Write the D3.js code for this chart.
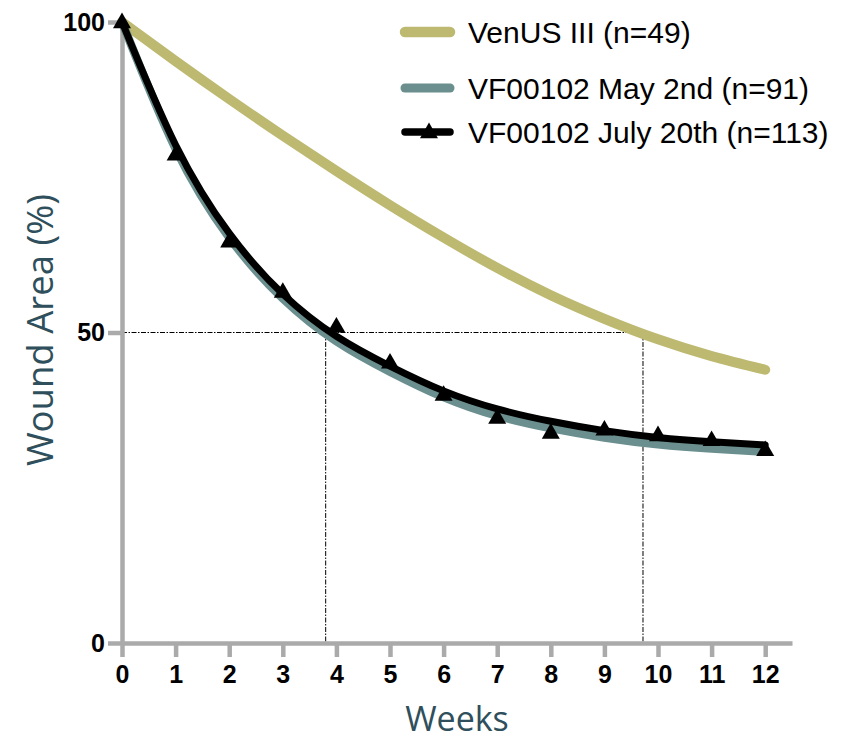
<!DOCTYPE html>
<html>
<head>
<meta charset="utf-8">
<script src="https://cdn.jsdelivr.net/npm/d3@7"></script>
<style>
  body { margin: 0; background: #fff; }
  .tick text { font-family: "Liberation Sans", Arial, sans-serif; font-weight: bold; font-size: 25px; fill: #000; }
  .axis path, .axis line { stroke: #aaaaaa; stroke-width: 4.5; }
  .title { font-family: "Open Sans", "Noto Sans", sans-serif; fill: #2e4f5b; }
  .legend text { font-family: "Liberation Sans", Arial, sans-serif; font-size: 30px; fill: #000; }
</style>
</head>
<body>
<div id="chart-area"></div>
<script>
// weeks on the x axis
let weeks = [0, 1, 2, 3, 4, 5, 6, 7, 8, 9, 10, 11, 12];

// fitted curves, wound area % per week
let venus = [100, 93.7, 87.6, 81.7, 76.0, 70.5, 65.3, 60.4, 56.0, 52.2, 48.9, 46.2, 44.0];
let mayFit = [100, 79.6, 65.3, 55.5, 48.6, 43.7, 39.6, 36.6, 34.6, 33.1, 32.0, 31.3, 30.8];
let julyFit = [100, 80.2, 66.0, 56.2, 49.4, 44.6, 40.6, 37.7, 35.7, 34.2, 33.1, 32.4, 31.9];

// observed points of the July 20th series
let julyPts = [100, 78.7, 64.7, 56.6, 51.0, 45.2, 40.0, 36.3, 33.9, 34.4, 33.5, 32.7, 31.1];

// weeks to 50% healing (dash-dot guides)
let halfWeeks = [3.8, 9.72];

let xTicks = weeks;
let yTicks = [0, 50, 100];

let series = [
  { name: "VenUS III (n=49)", values: venus, color: "#bdb970", width: 10 },
  { name: "VF00102 May 2nd (n=91)", values: mayFit, color: "#6a8f8e", width: 8.5 },
  { name: "VF00102 July 20th (n=113)", values: julyFit, color: "#000000", width: 7 }
];

let svgW = 856;
let svgH = 743;

let x = d3.scaleLinear().domain([0, 12.5]).range([122, 792]);
let y = d3.scaleLinear().domain([0, 100]).range([643, 22]);

let svg = d3.select("#chart-area")
  .append("svg")
  .attr("width", svgW)
  .attr("height", svgH);

// guides first so the curves sit on top
let guides = svg.append("g")
  .attr("stroke", "#000")
  .attr("stroke-width", 1)
  .attr("stroke-dasharray", "5,1.5,1.5,1.5");

guides.append("line")
  .attr("x1", x(0)).attr("x2", x(d3.max(halfWeeks)) + 3)
  .attr("y1", y(50)).attr("y2", y(50));

guides.selectAll(".v")
  .data(halfWeeks)
  .enter().append("line")
  .attr("x1", d => x(d)).attr("x2", d => x(d))
  .attr("y1", y(50)).attr("y2", y(0));

// axes
let xAxis = d3.axisBottom(x)
  .tickValues(xTicks)
  .tickSize(14)
  .tickSizeOuter(0)
  .tickPadding(8);

let yAxis = d3.axisLeft(y)
  .tickValues(yTicks)
  .tickSize(14)
  .tickSizeOuter(0)
  .tickPadding(3);

svg.append("g")
  .attr("class", "axis")
  .attr("transform", `translate(0, ${y(0)})`)
  .call(xAxis);

svg.append("g")
  .attr("class", "axis")
  .attr("transform", `translate(${x(0)}, 0)`)
  .call(yAxis);

// curves
let line = d3.line()
  .x((d, i) => x(weeks[i]))
  .y(d => y(d))
  .curve(d3.curveNatural);

svg.selectAll(".curve")
  .data(series)
  .enter().append("path")
  .attr("class", "curve")
  .attr("d", d => line(d.values))
  .attr("fill", "none")
  .attr("stroke", d => d.color)
  .attr("stroke-width", d => d.width)
  .attr("stroke-linecap", "round");

let tri = d3.symbol().type(d3.symbolTriangle).size(140);

svg.selectAll(".pt")
  .data(julyPts)
  .enter().append("path")
  .attr("class", "pt")
  .attr("d", tri)
  .attr("transform", (d, i) => `translate(${x(weeks[i])},${y(d) + 1})`)
  .attr("fill", "#000");

// axis titles
svg.append("text")
  .attr("class", "title")
  .attr("x", 457)
  .attr("y", 731)
  .attr("font-size", 34)
  .attr("text-anchor", "middle")
  .text("Weeks");

svg.append("text")
  .attr("class", "title")
  .attr("font-size", 36.5)
  .attr("transform", "translate(53, 330) rotate(-90)")
  .attr("text-anchor", "middle")
  .text("Wound Area (%)");

// legend
let legendY = [32, 88, 132];

let legend = svg.append("g").attr("class", "legend");

let rows = legend.selectAll("g")
  .data(series)
  .enter().append("g")
  .attr("transform", (d, i) => `translate(0, ${legendY[i]})`);

rows.append("line")
  .attr("x1", 405).attr("x2", 450)
  .attr("stroke", d => d.color)
  .attr("stroke-width", d => d.width + 0.5)
  .attr("stroke-linecap", "round");

rows.filter((d, i) => i === 2)
  .append("path")
  .attr("d", tri)
  .attr("transform", "translate(429, 1)")
  .attr("fill", "#000");

rows.append("text")
  .attr("x", 468)
  .attr("dy", "0.36em")
  .text(d => d.name);
</script>
</body>
</html>
